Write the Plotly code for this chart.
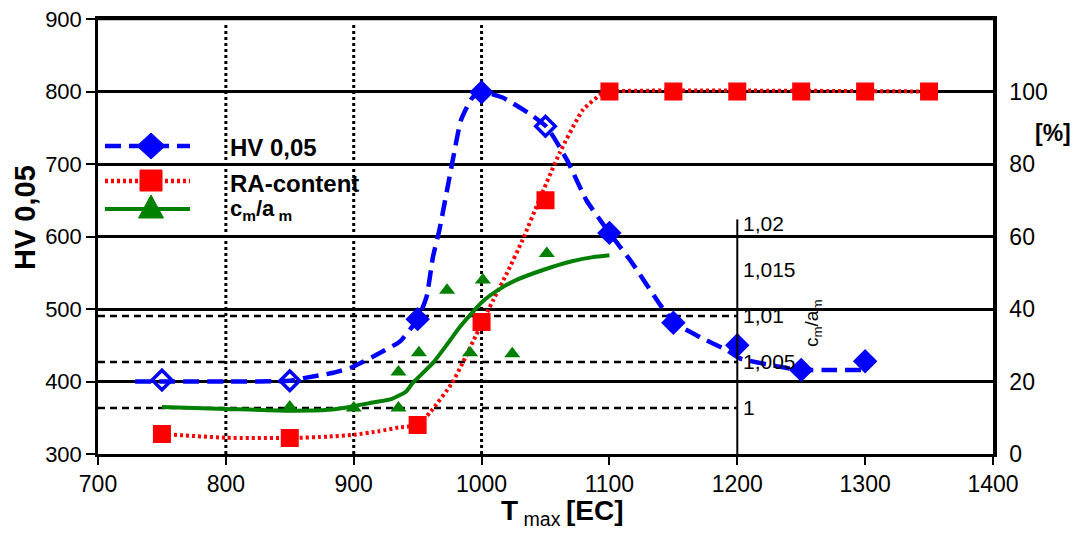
import plotly.graph_objects as go

# ---------------- data ----------------
# HV 0,05 measured points (left axis)
hv_x = [750, 850, 950, 1000, 1050, 1100, 1150, 1200, 1250, 1300]
hv_y = [402, 401, 486, 799, 752, 605, 481, 450, 416, 428]
hv_sym = ["diamond-open", "diamond-open", "diamond", "diamond", "diamond-open",
          "diamond", "diamond", "diamond", "diamond", "diamond"]
# HV fitted curve
hv_fit_x = [729, 750, 800, 850, 862, 884, 899, 920, 936, 950, 957, 962, 967, 977,
            984, 993, 1001, 1016, 1037, 1051, 1067, 1082, 1100, 1118, 1140, 1151,
            1171, 1192, 1202, 1225, 1249, 1273, 1302]
hv_fit_y = [400, 400, 400, 401, 405, 412, 420, 439, 455, 486, 517, 572, 609, 701,
            761, 792, 799, 792, 770, 751, 705, 650, 605, 563, 505, 481,
            461, 443, 432, 423, 416, 416, 416]

# RA-content [%] (right axis)
ra_x = [750, 850, 950, 1000, 1050, 1100, 1150, 1200, 1250, 1300, 1350]
ra_y = [5.5, 4.4, 8.0, 36.4, 70, 100, 100, 100, 100, 100, 100]
ra_fit_x = [750, 800, 850, 880, 900, 920, 935, 950, 960, 977, 985, 996, 1009,
            1020, 1032, 1045, 1061, 1079, 1094, 1100, 1350]
ra_fit_y = [5.5, 4.5, 4.4, 4.8, 5.3, 6.3, 7.3, 8.0, 11.6, 19.6, 25, 33, 42.4,
            50, 59, 70, 83, 94.8, 99.4, 100, 100]

# c_m/a_m (inner axis)
ca_x = [850, 900, 935, 935, 951, 973, 991, 1001, 1024, 1051]
ca_y = [1.0001, 1.0000, 1.0039, 1.0000, 1.0060, 1.0128, 1.0060, 1.0139, 1.0059, 1.0168]
ca_fit_x = [750, 800, 850, 880, 900, 915, 930, 941, 946, 962, 973, 983, 1001,
            1015, 1027, 1048, 1069, 1087, 1100]
ca_fit_y = [1.0001, 0.9999, 0.9997, 0.9998, 1.0002, 1.0006, 1.0010, 1.0018, 1.0027,
            1.0049, 1.0069, 1.0088, 1.0116, 1.0130, 1.0139, 1.0150, 1.0159, 1.0164, 1.0166]

# axes / ticks
hv_ticks = [300, 400, 500, 600, 700, 800, 900]
ra_ticks = [0, 20, 40, 60, 80, 100]
ca_ticks = [1.0, 1.005, 1.01, 1.015, 1.02]
ca_ticktext = ["1", "1,005", "1,01", "1,015", "1,02"]
x_ticks = [700, 800, 900, 1000, 1100, 1200, 1300, 1400]
dotted_x = [800, 900, 1000]
ca_ref = [1.0, 1.005, 1.01]
ca_axis_x = 1200

# ---------------- layout helpers ----------------
# page is rendered with the default 8px body margin, so the figure is shrunk by it
OFF = 8
W, H = 1079 - OFF, 535 - OFF
L, R, T, B = 98, 993, 19, 454          # plot area in page pixels
def px(x):
    return (x - L) / (R - L)
def py(y):
    return (B - y) / (B - T)

FONT = "Arial, Liberation Sans, sans-serif"
BLUE, RED, GREEN = "#0000FF", "#FF0000", "#008000"

fig = go.Figure()

fig.add_trace(go.Scatter(x=hv_fit_x, y=hv_fit_y, mode="lines",
                         line=dict(color=BLUE, width=4.5, dash="16px,8px",
                                   shape="spline", smoothing=0.5),
                         showlegend=False, hoverinfo="skip"))
fig.add_trace(go.Scatter(x=ra_fit_x, y=ra_fit_y, yaxis="y2", mode="lines",
                         line=dict(color=RED, width=4, dash="3px,3px",
                                   shape="spline", smoothing=0.5),
                         showlegend=False, hoverinfo="skip"))
fig.add_trace(go.Scatter(x=ca_fit_x, y=ca_fit_y, yaxis="y3", mode="lines",
                         line=dict(color=GREEN, width=4, shape="spline", smoothing=0.5),
                         showlegend=False, hoverinfo="skip"))
fig.add_trace(go.Scatter(x=hv_x, y=hv_y, mode="markers", name="HV 0,05",
                         marker=dict(symbol=hv_sym, size=15, color=BLUE,
                                     line=dict(color=BLUE, width=3.5)),
                         showlegend=False))
fig.add_trace(go.Scatter(x=ra_x, y=ra_y, yaxis="y2", mode="markers", name="RA-content",
                         marker=dict(symbol="square", size=16, color=RED,
                                     line=dict(color=RED, width=2)),
                         showlegend=False))
fig.add_trace(go.Scatter(x=ca_x, y=ca_y, yaxis="y3", mode="markers", name="cm/am",
                         marker=dict(symbol="triangle-up", size=14, color=GREEN),
                         showlegend=False))

shapes = []
# top border (grid line at 900)
shapes.append(dict(type="line", xref="paper", yref="paper", x0=0, x1=1, y0=1, y1=1,
                   line=dict(color="black", width=2.5), layer="above"))
# vertical dotted reference lines
for xv in dotted_x:
    shapes.append(dict(type="line", xref="x", yref="paper", x0=xv, x1=xv, y0=0, y1=py(23),
                       line=dict(color="black", width=3, dash="3px,3px"), layer="below"))
# dashed c/a reference lines
for cv in ca_ref:
    shapes.append(dict(type="line", xref="x", yref="y3", x0=700, x1=ca_axis_x, y0=cv, y1=cv,
                       line=dict(color="black", width=2.5, dash="7px,5px"), layer="below"))
# inner c/a axis line
shapes.append(dict(type="line", xref="x", yref="y3", x0=ca_axis_x, x1=ca_axis_x,
                   y0=0.995, y1=1.0205, line=dict(color="black", width=2), layer="above"))

# legend samples
lx0, lx1 = 105, 190
shapes.append(dict(type="line", xref="paper", yref="paper", x0=px(lx0), x1=px(lx1),
                   y0=py(146), y1=py(146), line=dict(color=BLUE, width=4.5, dash="16px,8px")))
shapes.append(dict(type="line", xref="paper", yref="paper", x0=px(lx0), x1=px(lx1),
                   y0=py(181), y1=py(181), line=dict(color=RED, width=4.5, dash="3px,3px")))
shapes.append(dict(type="line", xref="paper", yref="paper", x0=px(lx0), x1=px(lx1),
                   y0=py(209), y1=py(209), line=dict(color=GREEN, width=4)))
cx, cy = 151, 146
shapes.append(dict(type="path", xref="paper", yref="paper",
                   path=f"M{px(cx)},{py(cy-13)} L{px(cx+14)},{py(cy)} L{px(cx)},{py(cy+13)} L{px(cx-14)},{py(cy)} Z",
                   fillcolor=BLUE, line=dict(color=BLUE, width=1)))
shapes.append(dict(type="rect", xref="paper", yref="paper",
                   x0=px(140), x1=px(162), y0=py(191), y1=py(170),
                   fillcolor=RED, line=dict(color=RED, width=1)))
shapes.append(dict(type="path", xref="paper", yref="paper",
                   path=f"M{px(151)},{py(195)} L{px(163.5)},{py(218)} L{px(138.5)},{py(218)} Z",
                   fillcolor=GREEN, line=dict(color=GREEN, width=1)))

annotations = [
    dict(xref="paper", yref="paper", x=px(228), y=py(147), xanchor="left", yanchor="middle",
         text="<b>HV 0,05</b>", showarrow=False, font=dict(family=FONT, size=24, color="black")),
    dict(xref="paper", yref="paper", x=px(228), y=py(183), xanchor="left", yanchor="middle",
         text="<b>RA-content</b>", showarrow=False, font=dict(family=FONT, size=24, color="black")),
    dict(xref="paper", yref="paper", x=px(228), y=py(210), xanchor="left", yanchor="middle",
         text="<b>c<sub>m</sub>/a<sub> m</sub></b>", showarrow=False,
         font=dict(family=FONT, size=22, color="black")),
    # axis titles
    dict(xref="paper", yref="paper", x=px(25), y=py(218), xanchor="center", yanchor="middle",
         text="<b>HV 0,05</b>", textangle=-90, showarrow=False,
         font=dict(family=FONT, size=29, color="black")),
    dict(xref="paper", yref="paper", x=px(1053), y=py(133), xanchor="center", yanchor="middle",
         text="<b>[%]</b>", showarrow=False, font=dict(family=FONT, size=23, color="black")),
    dict(xref="paper", yref="paper", x=px(562), y=py(513), xanchor="center", yanchor="middle",
         text="<b>T</b><sub> max </sub><b>[EC]</b>", showarrow=False,
         font=dict(family=FONT, size=28, color="black")),
    dict(xref="paper", yref="paper", x=px(813), y=py(323), xanchor="center", yanchor="middle",
         text="c<sub>m</sub>/a<sub>m</sub>", textangle=-90, showarrow=False,
         font=dict(family=FONT, size=19, color="black")),
]

fig.update_layout(
    width=W, height=H,
    margin=dict(l=L - OFF, r=W - (R - OFF), t=T - OFF, b=H - (B - OFF), pad=0,
                autoexpand=False),
    paper_bgcolor="white", plot_bgcolor="white",
    font=dict(family=FONT, size=23, color="black"),
    showlegend=False,
    xaxis=dict(range=[700, 1400], tickvals=x_ticks, showgrid=False, zeroline=False,
               showline=True, linecolor="black", linewidth=2.5, mirror=True,
               ticks="outside", ticklen=8, tickwidth=2, tickcolor="black",
               tickfont=dict(size=23), automargin=False),
    yaxis=dict(range=[300, 900], tickvals=hv_ticks, showgrid=True, gridcolor="black",
               gridwidth=2.5, zeroline=False, showline=True, linecolor="black", linewidth=2.5,
               ticks="outside", ticklen=9, tickwidth=2, tickcolor="black",
               tickfont=dict(size=22), automargin=False, ticklabeloverflow="allow"),
    yaxis2=dict(range=[0, 120], tickvals=ra_ticks, overlaying="y", side="right",
                showgrid=False, zeroline=False, showline=True, linecolor="black",
                linewidth=3.5, ticks="", ticklabelstandoff=8, tickfont=dict(size=23),
                automargin=False),
    yaxis3=dict(range=[0.995, 1.04228], tickvals=ca_ticks, ticktext=ca_ticktext,
                overlaying="y", anchor="free", position=px(740), side="right",
                showgrid=False, zeroline=False, showline=False, ticks="",
                ticklabelstandoff=2, tickfont=dict(size=21), automargin=False),
    shapes=shapes,
    annotations=annotations,
)

fig.write_html("out.html")
